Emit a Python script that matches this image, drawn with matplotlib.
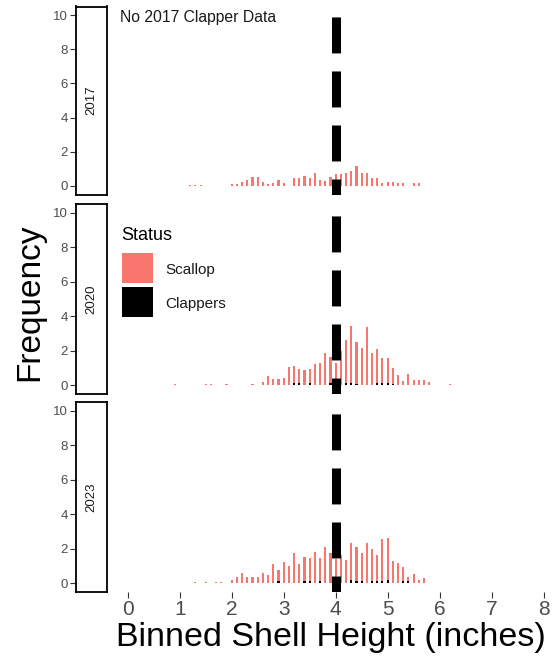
import matplotlib
matplotlib.use("Agg")
import matplotlib.pyplot as plt
from matplotlib.patches import Rectangle
import numpy as np

plt.rcParams['font.family'] = ['Liberation Sans', 'DejaVu Sans']
plt.rcParams['lines.scale_dashes'] = False

years = ['2017', '2020', '2023']

# binned shell heights (0.1 in bins) and frequencies
scallop_bins_2017 = [1.2, 1.3, 1.4, 2.0, 2.1, 2.2, 2.3, 2.4, 2.5, 2.6, 2.7, 2.8, 2.9, 3.0,
                     3.2, 3.3, 3.4, 3.5, 3.6, 3.7, 3.8, 3.9, 4.0, 4.1, 4.2, 4.3, 4.4, 4.5,
                     4.6, 4.7, 4.8, 4.9, 5.0, 5.1, 5.2, 5.3, 5.5, 5.6]
scallop_freq_2017 = [0.04, 0.04, 0.04, 0.1, 0.1, 0.25, 0.35, 0.5, 0.5, 0.25, 0.1, 0.15, 0.35, 0.2,
                     0.45, 0.45, 0.6, 0.45, 0.75, 0.35, 0.3, 0.55, 0.7, 0.7, 0.75, 0.85, 1.15, 0.75,
                     0.75, 0.45, 0.45, 0.15, 0.25, 0.25, 0.15, 0.2, 0.15, 0.15]

scallop_bins_2020 = [0.9, 1.5, 1.6, 1.9, 2.4, 2.6, 2.7, 2.8, 2.9, 3.0, 3.1, 3.2, 3.3, 3.4,
                     3.5, 3.6, 3.7, 3.8, 3.9, 4.0, 4.1, 4.2, 4.3, 4.4, 4.5, 4.6, 4.7, 4.8,
                     4.9, 5.0, 5.1, 5.2, 5.3, 5.4, 5.5, 5.6, 5.7, 5.8, 6.2]
scallop_freq_2020 = [0.06, 0.06, 0.06, 0.06, 0.06, 0.2, 0.5, 0.35, 0.35, 0.4, 1.05, 1.1, 0.95, 0.85,
                     0.95, 1.2, 1.3, 1.85, 1.6, 1.3, 2.0, 2.6, 3.45, 2.5, 2.15, 3.4, 1.85, 2.1,
                     1.55, 1.55, 1.0, 0.6, 0.25, 0.65, 0.3, 0.3, 0.3, 0.2, 0.08]

scallop_bins_2023 = [1.3, 1.5, 1.7, 1.8, 2.0, 2.1, 2.2, 2.3, 2.4, 2.5, 2.6, 2.7, 2.8, 2.9,
                     3.0, 3.1, 3.2, 3.3, 3.4, 3.5, 3.6, 3.7, 3.8, 3.9, 4.0, 4.1, 4.2, 4.3,
                     4.4, 4.5, 4.6, 4.7, 4.8, 4.9, 5.0, 5.1, 5.2, 5.3, 5.4, 5.5, 5.6, 5.7]
scallop_freq_2023 = [0.05, 0.05, 0.05, 0.05, 0.2, 0.37, 0.56, 0.37, 0.33, 0.37, 0.56, 0.46, 1.08, 0.75,
                     1.22, 0.99, 1.76, 1.08, 1.49, 1.45, 1.82, 1.47, 2.11, 1.72, 1.4, 1.6, 1.34, 2.34,
                     2.07, 1.72, 2.3, 2.0, 1.63, 2.54, 2.6, 1.3, 1.14, 0.95, 0.37, 0.5, 0.17, 0.27]

clapper_bins_2020 = [3.2, 3.3, 3.5, 3.9, 4.2, 4.3, 4.4, 4.8, 4.9, 5.0, 5.1]
clapper_freq_2020 = [0.12, 0.12, 0.12, 0.12, 0.12, 0.12, 0.08, 0.12, 0.12, 0.12, 0.08]

clapper_bins_2023 = [2.9, 3.4, 3.5, 3.7, 4.3, 4.4, 4.5, 4.7, 4.8, 4.9, 5.0, 5.3, 5.4]
clapper_freq_2023 = [0.1, 0.1, 0.1, 0.1, 0.15, 0.1, 0.1, 0.1, 0.1, 0.1, 0.15, 0.1, 0.1]

scallops = [(scallop_bins_2017, scallop_freq_2017),
            (scallop_bins_2020, scallop_freq_2020),
            (scallop_bins_2023, scallop_freq_2023)]
clappers = [([], []),
            (clapper_bins_2020, clapper_freq_2020),
            (clapper_bins_2023, clapper_freq_2023)]

cutoff = 4.0
scallop_col = '#F8766D'
W, H = 558, 667
grey = '#4D4D4D'

fig = plt.figure(figsize=(W / 100, H / 100), dpi=100)

# panel extents in pixels (top, bottom)
rows = [(6.5, 194.5), (204.4, 393.6), (402.4, 591.6)]
x0, x1, sx0 = 107, 555, 76

for i, (top, bot) in enumerate(rows):
    ax = fig.add_axes([x0 / W, 1 - bot / H, (x1 - x0) / W, (bot - top) / H])
    bx, by = scallops[i]
    ax.bar(bx, by, width=0.04, color=scallop_col, linewidth=0, zorder=2)
    cx, cy = clappers[i]
    if len(cx):
        ax.bar(cx, cy, width=0.04, color='black', linewidth=0, zorder=3)
    ax.axvline(cutoff, color='black', lw=6.5, linestyle=(14.4, (25.9, 13.0)),
               solid_capstyle='butt', zorder=4)
    ax.set_xlim(-0.4, 8.22)
    ax.set_ylim(-0.5, 10.5)
    ax.set_yticks([])
    for s in ax.spines.values():
        s.set_visible(False)
    if i == 2:
        ax.set_xticks(range(0, 9))
        ax.tick_params(axis='x', length=4, width=0.8, color='#333333',
                       labelsize=15, labelcolor=grey, pad=2)
        ax.set_xlabel('Binned Shell Height (inches)', fontsize=24.5, labelpad=2)
    else:
        ax.set_xticks([])

    # strip box with the y ticks on its left side
    sax = fig.add_axes([sx0 / W, 1 - bot / H, (x0 - sx0) / W, (bot - top) / H])
    sax.set_ylim(-0.5, 10.5)
    sax.set_xlim(0, 1)
    sax.set_xticks([])
    sax.set_yticks(range(0, 11, 2))
    sax.tick_params(axis='y', length=4, width=0.8, color='#333333',
                    labelsize=9.5, labelcolor=grey, pad=2)
    for s in sax.spines.values():
        s.set_linewidth(1.3)
    sax.text(0.5, 5, years[i], rotation=90, ha='center', va='center',
             fontsize=9.5, color='#1A1A1A')

    if i == 0:
        ax.text(0.03, 0.94, 'No 2017 Clapper Data', transform=ax.transAxes,
                fontsize=11.3, ha='left', va='center', color='#1A1A1A')

# legend and y title drawn in pixel space
ov = fig.add_axes([0, 0, 1, 1], zorder=10)
ov.set_xlim(0, W)
ov.set_ylim(H, 0)
ov.axis('off')
ov.patch.set_alpha(0)
ov.text(121, 235, 'Status', fontsize=13, ha='left', va='center')
ov.add_patch(Rectangle((122, 253), 31, 30, color=scallop_col, lw=0))
ov.add_patch(Rectangle((122, 287), 31, 30, color='black', lw=0))
ov.text(165, 270, 'Scallop', fontsize=11, ha='left', va='center', color='#1A1A1A')
ov.text(165, 304, 'Clappers', fontsize=11, ha='left', va='center', color='#1A1A1A')
ov.text(30, 302, 'Frequency', fontsize=24, rotation=90, ha='center', va='center')

plt.savefig('out.png', dpi=100)
